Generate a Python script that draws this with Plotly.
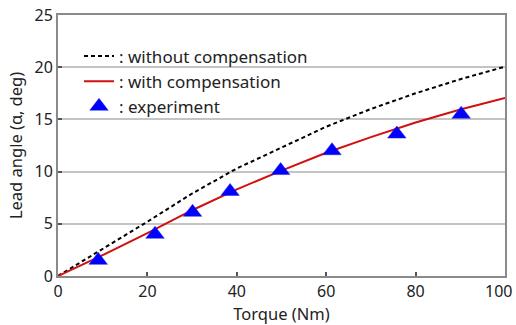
import plotly.graph_objects as go

torque_curve = [0, 10, 20, 30, 40, 50, 60, 70, 80, 90, 100]
without_comp = [0, 2.6, 5.2, 7.9, 10.3, 12.3, 14.3, 16.0, 17.5, 18.85, 20.05]
with_comp = [0, 2.0, 4.1, 6.3, 8.3, 10.1, 11.8, 13.3, 14.7, 15.95, 17.05]

exp_torque = [9, 21.7, 30.1, 38.5, 49.8, 61.3, 75.8, 90.2]
exp_angle = [1.5, 4.0, 6.1, 8.1, 10.1, 12.0, 13.6, 15.5]

x_ticks = [0, 20, 40, 60, 80, 100]
y_ticks = [0, 5, 10, 15, 20, 25]

font_family = "Noto Sans, DejaVu Sans, sans-serif"
text_color = "#222222"

# the last x label sits against the window edge; it is drawn as a label nudged left
# (as in the reference) so it is not cut off
x_ticktext = [str(v) for v in x_ticks[:-1]] + [""]

fig = go.Figure()
fig.add_trace(go.Scatter(
    x=torque_curve, y=without_comp, mode="lines",
    name=": without compensation", legendgroup="a",
    line=dict(color="black", width=2, dash="4px,3px"),
))
fig.add_trace(go.Scatter(
    x=torque_curve, y=with_comp, mode="lines",
    name=": with compensation", legendgroup="b",
    line=dict(color="#d01010", width=2),
))
fig.add_trace(go.Scatter(
    x=exp_torque, y=exp_angle, mode="markers",
    name=": experiment", legendgroup="c",
    marker=dict(symbol="triangle-up", size=16, color="#0000ff",
                line=dict(color="#2020e0", width=0.5)),
))

tickfont = dict(size=16, color=text_color, family=font_family)
axis_common = dict(
    showline=True, linecolor="#8a8a8a", linewidth=2, mirror=True,
    ticks="inside", ticklen=4, tickwidth=2, tickcolor="#555555",
    tickfont=tickfont,
    zeroline=False, automargin=False, ticklabeloverflow="allow",
)

fig.update_xaxes(
    range=[0, 100], tickvals=x_ticks, ticktext=x_ticktext, showgrid=False,
    title=dict(text="Torque (Nm)", font=dict(size=16.5, color=text_color, family=font_family), standoff=0),
    **axis_common,
)
fig.update_yaxes(
    range=[0, 25], tickvals=y_ticks, showgrid=True, gridcolor="#c4c4c4", gridwidth=1.5,
    title=dict(text="Lead angle (α, deg)", font=dict(size=16.5, color=text_color, family=font_family), standoff=8),
    **axis_common,
)

fig.add_annotation(
    x=x_ticks[-1], xref="x", y=0, yref="paper",
    text=str(x_ticks[-1]), showarrow=False, font=tickfont,
    xanchor="center", yanchor="middle", xshift=-7, yshift=-15,
)

fig.update_layout(
    width=516, height=325,
    margin=dict(l=58, r=11, t=15, b=49),
    paper_bgcolor="white", plot_bgcolor="white",
    font=dict(family=font_family, color=text_color),
    showlegend=True,
    legend=dict(
        x=0.047, y=0.91, xanchor="left", yanchor="top",
        bgcolor="rgba(0,0,0,0)", borderwidth=0,
        font=dict(size=17, color=text_color, family=font_family),
        tracegroupgap=0, itemwidth=30,
    ),
)

# remove the page's default body margin so the 516x325 figure fills the window exactly
fig.write_html("out.html", config={"displayModeBar": False},
               post_script="document.body.style.margin='0';")
